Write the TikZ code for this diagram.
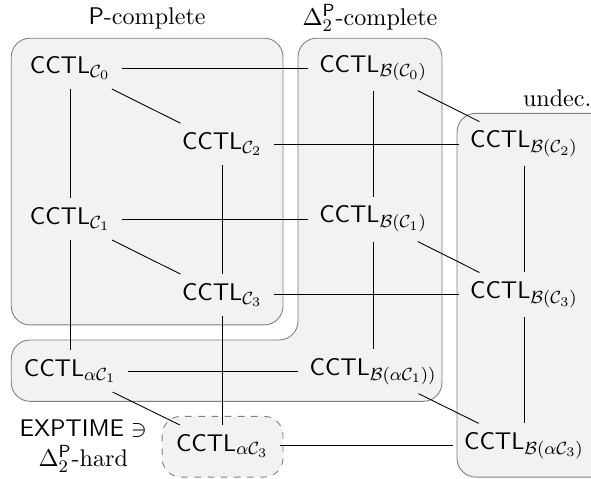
\documentclass[tikz,border=0pt,11pt]{standalone}

\begin{document}
\begin{tikzpicture}[
        lat/.style={inner xsep=5pt, inner ysep=4pt},
        region/.style={draw=black!50, fill=gray!10, rounded corners=0.3cm}]
        \useasboundingbox (0,0) rectangle (9.44,-7.65);
        \clip (0,0) rectangle (9.44,-7.65);
        % regions
        \draw[region] (0.18,-0.61) rectangle (4.52,-5.19);
        \draw[region] (4.76,-0.61) -- (7.06,-0.61) -- (7.06,-6.41) -- (0.18,-6.41)
            -- (0.18,-5.43) -- (4.76,-5.43) -- cycle;
        \draw[region] (7.30,-1.81) rectangle (9.9,-7.62);
        \draw[region, dashed] (2.59,-6.65) rectangle (4.52,-7.62);
        \node (pc) at (2.35,-0.29) {$\mathsf{P}$-complete};
        \node (dc) at (5.91,-0.29) {$\Delta_2^{\mathsf{P}}$-complete};
        \node (un) at (8.9,-1.57) {undec.};
        \node[align=center] (ex) at (1.33,-7.12) {$\mathsf{EXPTIME} \ni$\\$\Delta_2^{\mathsf{P}}$-hard};
        % logics
        \node[lat] (c0) at (1.12,-1.09) {\textsf{CCTL}$_{\mathcal{C}_0}$};
        \node[lat] (c2) at (3.55,-2.30) {\textsf{CCTL}$_{\mathcal{C}_2}$};
        \node[lat] (c1) at (1.12,-3.50) {\textsf{CCTL}$_{\mathcal{C}_1}$};
        \node[lat] (c3) at (3.55,-4.71) {\textsf{CCTL}$_{\mathcal{C}_3}$};
        \node[lat] (ac1) at (1.12,-5.93) {\textsf{CCTL}$_{\alpha\mathcal{C}_1}$};
        \node[lat] (ac3) at (3.55,-7.12) {\textsf{CCTL}$_{\alpha\mathcal{C}_3}$};
        \node[lat] (b0) at (5.96,-1.09) {\textsf{CCTL}$_{\mathcal{B}(\mathcal{C}_0)}$};
        \node[lat] (b2) at (8.37,-2.30) {\textsf{CCTL}$_{\mathcal{B}(\mathcal{C}_2)}$};
        \node[lat] (b1) at (5.96,-3.50) {\textsf{CCTL}$_{\mathcal{B}(\mathcal{C}_1)}$};
        \node[lat] (b3) at (8.37,-4.71) {\textsf{CCTL}$_{\mathcal{B}(\mathcal{C}_3)}$};
        \node[lat] (bac1) at (5.96,-5.93) {\textsf{CCTL}$_{\mathcal{B}(\alpha\mathcal{C}_1))}$};
        \node[lat] (bac3) at (8.37,-7.12) {\textsf{CCTL}$_{\mathcal{B}(\alpha\mathcal{C}_3)}$};
        % edges
        \draw (c0) -- (b0);
        \draw (c0) -- (c1);
        \draw (c0) -- (c2);
        \draw (c2) -- (b2);
        \draw (c2) -- (c3);
        \draw (c1) -- (b1);
        \draw (c1) -- (c3);
        \draw (c1) -- (ac1);
        \draw (c3) -- (b3);
        \draw (c3) -- (ac3);
        \draw (ac1) -- (bac1);
        \draw (ac1) -- (ac3);
        \draw (ac3) -- (bac3);
        \draw (b0) -- (b1);
        \draw (b0) -- (b2);
        \draw (b1) -- (bac1);
        \draw (b1) -- (b3);
        \draw (b2) -- (b3);
        \draw (b3) -- (bac3);
        \draw (bac1) -- (bac3);
    \end{tikzpicture}
\end{document}
